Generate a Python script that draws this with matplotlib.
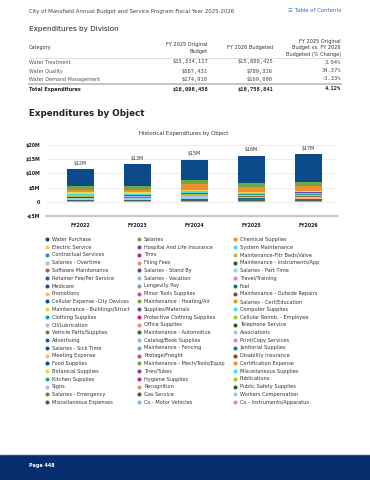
import matplotlib.pyplot as plt
from matplotlib.lines import Line2D
from matplotlib.patches import Rectangle
from matplotlib.ticker import MultipleLocator, FuncFormatter
import numpy as np

W, H = 370, 480

# --- table: expenditures by division ---
DIVISIONS = ['Water Treatment', 'Water Quality', 'Water Demand Management']
BUDGET_2025 = ['$15,334,117', '$587,431', '$174,910']
BUDGET_2026 = ['$15,800,425', '$789,326', '$169,090']
PCT_CHANGE = ['3.04%', '34.37%', '-3.33%']
TOTAL_ROW = ['Total Expenditures', '$16,096,458', '$16,758,841', '4.12%']

# --- chart: historical expenditures by object ($M) ---
YEARS = ['FY2022', 'FY2023', 'FY2024', 'FY2025', 'FY2026']
SERIES = [
    'Water Purchase', 'Salaries', 'Chemical Supplies',
    'Electric Service', 'Hospital And Life Insurance', 'System Maintenance',
    'Contractual Services', 'Tmrs', 'Maintenance-Fltr Beds/Valve',
    'Salaries - Overtime', 'Filing Fees', 'Maintenance - Instruments/App',
    'Software Maintenance', 'Salaries - Stand By', 'Salaries - Part Time',
    'Retainer Fee/Per Service', 'Salaries - Vacation', 'Travel/Training',
    'Medicare', 'Longevity Pay', 'Fuel',
    'Promotions', 'Minor Tools Supplies', 'Maintenance - Outside Repairs',
    'Cellular Expense -City Devices', 'Maintenance - Heating/Air', 'Salaries - Cert/Education',
    'Maintenance - Buildings/Struct', 'Supplies/Materials', 'Computer Supplies',
    'Clothing Supplies', 'Protective Clothing Supplies', 'Cellular Reimb. - Employee',
    'Oil/Lubrication', 'Office Supplies', 'Telephone Service',
    'Vehicle Parts/Supplies', 'Maintenance - Automotive', 'Associations',
    'Advertising', 'Catalog/Book Supplies', 'Print/Copy Services',
    'Salaries - Sick Time', 'Maintenance - Fencing', 'Janitorial Supplies',
    'Meeting Expense', 'Postage/Freight', 'Disability Insurance',
    'Food Supplies', 'Maintenance - Mech/Tools/Equip', 'Certification Expense',
    'Botanical Supplies', 'Tires/Tubes', 'Miscellaneous Supplies',
    'Kitchen Supplies', 'Hygiene Supplies', 'Publications',
    'Signs', 'Recognition', 'Public Safety Supplies',
    'Salaries - Emergency', 'Gas Service', 'Workers Compensation',
    'Miscellaneous Expenses', 'Co - Motor Vehicles', 'Co - Instruments/Apparatus',
]
VALUES = [
    [5.99, 7.75, 7.30, 9.72, 9.86],
    [1.40, 1.40, 1.30, 1.20, 1.41],
    [0.80, 0.85, 1.90, 1.76, 1.76],
    [0.62, 0.55, 0.50, 0.40, 0.42],
    [0.12, 0.12, 0.10, 0.10, 0.12],
    [0.50, 0.30, 0.55, 0.35, 0.50],
    [0.12, 0.10, 0.18, 0.15, 0.18],
    [0.08, 0.08, 0.07, 0.08, 0.09],
    [0.06, 0.08, 1.00, 0.06, 0.06],
    [0.30, 0.50, 0.18, 0.45, 0.45],
    [0.02, 0.02, 0.02, 0.02, 0.02],
    [0.03, 0.03, 0.05, 0.04, 0.04],
    [0.04, 0.04, 0.04, 0.05, 0.05],
    [0.03, 0.03, 0.03, 0.03, 0.03],
    [0.35, 0.40, 0.45, 0.35, 0.35],
    [0.02, 0.02, 0.03, 0.03, 0.03],
    [0.06, 0.06, 0.06, 0.06, 0.06],
    [0.04, 0.04, 0.05, 0.14, 0.12],
    [0.03, 0.03, 0.03, 0.03, 0.03],
    [0.01, 0.01, 0.01, 0.01, 0.01],
    [0.03, 0.03, 0.04, 0.04, 0.04],
    [0.10, 0.10, 0.08, 0.12, 0.10],
    [0.02, 0.02, 0.02, 0.02, 0.02],
    [0.03, 0.03, 0.03, 0.03, 0.03],
    [0.01, 0.01, 0.01, 0.01, 0.01],
    [0.01, 0.01, 0.01, 0.01, 0.01],
    [0.02, 0.02, 0.02, 0.02, 0.02],
    [0.05, 0.05, 0.10, 0.05, 0.05],
    [0.04, 0.04, 0.06, 0.30, 0.35],
    [0.02, 0.02, 0.02, 0.02, 0.02],
    [0.01, 0.01, 0.01, 0.01, 0.01],
    [0.01, 0.01, 0.01, 0.01, 0.01],
    [0.01, 0.01, 0.01, 0.01, 0.01],
    [0.01, 0.01, 0.01, 0.01, 0.01],
    [0.02, 0.02, 0.02, 0.02, 0.02],
    [0.02, 0.02, 0.02, 0.02, 0.02],
    [0.03, 0.03, 0.03, 0.03, 0.03],
    [0.03, 0.03, 0.03, 0.03, 0.03],
    [0.01, 0.01, 0.01, 0.01, 0.01],
    [0.01, 0.01, 0.01, 0.01, 0.01],
    [0.005, 0.005, 0.005, 0.005, 0.005],
    [0.01, 0.01, 0.01, 0.01, 0.01],
    [0.04, 0.04, 0.04, 0.04, 0.04],
    [0.005, 0.005, 0.005, 0.005, 0.005],
    [0.005, 0.005, 0.005, 0.005, 0.005],
    [0.005, 0.005, 0.005, 0.005, 0.005],
    [0.01, 0.01, 0.01, 0.01, 0.01],
    [0.01, 0.01, 0.01, 0.01, 0.01],
    [0.005, 0.005, 0.005, 0.005, 0.005],
    [0.02, 0.02, 0.02, 0.02, 0.02],
    [0.005, 0.005, 0.005, 0.005, 0.005],
    [0.005, 0.005, 0.005, 0.005, 0.005],
    [0.01, 0.01, 0.01, 0.01, 0.01],
    [0.01, 0.01, 0.01, 0.01, 0.01],
    [0.005, 0.005, 0.005, 0.005, 0.005],
    [0.005, 0.005, 0.005, 0.005, 0.005],
    [0.005, 0.005, 0.005, 0.005, 0.005],
    [0.005, 0.005, 0.005, 0.005, 0.005],
    [0.005, 0.005, 0.005, 0.005, 0.005],
    [0.01, 0.01, 0.01, 0.01, 0.01],
    [0.01, 0.01, 0.01, 0.01, 0.01],
    [0.005, 0.005, 0.005, 0.005, 0.005],
    [0.05, 0.05, 0.05, 0.05, 0.05],
    [0.02, 0.02, 0.02, 0.02, 0.02],
    [0.10, 0.10, 0.10, 0.10, 0.10],
    [0.05, 0.05, 0.05, 0.05, 0.05],
]

PALETTE = ['#0c4a8a', '#6aa944', '#f08f2f', '#f3d24c', '#6b48a6', '#40e0f0',
           '#18a3a6', '#c41a8c', '#b9c12c', '#b6b6f2', '#f08a78', '#1d6615',
           '#a06a3c', '#4c5b58', '#8fd4e8', '#1f5ea3', '#85b8f2', '#f07ab6',
           '#2a48a4', '#8c9ba8', '#0b7a84', '#f6b68c', '#e0487a', '#7c4a30']

TEXT = '#333333'


def fx(x):
    return x / W


def fy(y):
    return 1 - y / H


fig = plt.figure(figsize=(W / 100, H / 100), dpi=100)

# page header
fig.text(fx(29), fy(11), 'City of Mansfield Annual Budget and Service Program Fiscal Year 2025-2026',
         fontsize=3.9, color='#444444', va='center')
fig.text(fx(341), fy(11), '\u2630 Table of Contents', fontsize=3.9, color='#3b6fc6',
         va='center', ha='right')
fig.text(fx(29), fy(29), 'Expenditures by Division', fontsize=5.2, color='#222222', va='center')

# division table
fig.text(fx(29), fy(48), 'Category', fontsize=3.6, color=TEXT, va='center')
fig.text(fx(208), fy(48), 'FY 2025 Original\nBudget', fontsize=3.6, color=TEXT,
         va='center', ha='right', multialignment='right', linespacing=1.3)
fig.text(fx(273), fy(48), 'FY 2026 Budgeted', fontsize=3.6, color=TEXT, va='center', ha='right')
fig.text(fx(341), fy(48), 'FY 2025 Original\nBudget vs. FY 2026\nBudgeted (% Change)',
         fontsize=3.6, color=TEXT, va='center', ha='right', multialignment='right',
         linespacing=1.3)
fig.add_artist(Line2D([fx(29), fx(341)], [fy(58), fy(58)], color='#cfcfcf', lw=0.5))

row_y = [62, 71, 79]
for y, name, b25, b26, pct in zip(row_y, DIVISIONS, BUDGET_2025, BUDGET_2026, PCT_CHANGE):
    fig.text(fx(29), fy(y), name, fontsize=3.5, color='#555555', va='center')
    fig.text(fx(208), fy(y), b25, fontsize=3.9, color='#444444', va='center', ha='right',
             family='DejaVu Sans Mono')
    fig.text(fx(273), fy(y), b26, fontsize=3.9, color='#444444', va='center', ha='right',
             family='DejaVu Sans Mono')
    fig.text(fx(341), fy(y), pct, fontsize=3.9, color='#444444', va='center', ha='right',
             family='DejaVu Sans Mono')
fig.add_artist(Line2D([fx(29), fx(341)], [fy(84), fy(84)], color='#c4c4c4', lw=1.4))
fig.text(fx(29), fy(89), TOTAL_ROW[0], fontsize=3.5, color='#222222', va='center',
         weight='bold')
for xr, txt in zip([208, 273, 341], TOTAL_ROW[1:]):
    fig.text(fx(xr), fy(89), txt, fontsize=3.9, color='#222222', va='center', ha='right',
             family='DejaVu Sans Mono', weight='bold')

fig.text(fx(29), fy(113), 'Expenditures by Object', fontsize=6.3, color='#222222',
         va='center', weight='bold')
fig.text(fx(184), fy(133), 'Historical Expenditures by Object', fontsize=3.9,
         color=TEXT, va='center', ha='center')

# stacked column chart
ax = fig.add_axes([fx(46), fy(216), fx(337) - fx(46), fy(145) - fy(216)])
x = np.arange(len(YEARS))
vals = np.array(VALUES)
bottom = np.zeros(len(YEARS))
for i in reversed(range(len(SERIES))):
    ax.bar(x, vals[i], width=0.48, bottom=bottom,
           color=PALETTE[i % len(PALETTE)], linewidth=0)
    bottom += vals[i]
totals = vals.sum(axis=0)
for xi, t in zip(x, totals):
    ax.annotate(f'${round(t):.0f}M', (xi, t), xytext=(0, 2.5), textcoords='offset points',
                ha='center', va='bottom', fontsize=3.4, color=TEXT)

ax.set_xlim(-0.6, 4.5)
ax.set_ylim(-5, 20)
ax.yaxis.set_major_locator(MultipleLocator(5))
ax.yaxis.set_major_formatter(FuncFormatter(
    lambda v, p: '0' if v == 0 else ('-$%dM' % -v if v < 0 else '$%dM' % v)))
ax.set_xticks(x)
ax.set_xticklabels(YEARS)
ax.tick_params(axis='both', length=0, labelsize=3.4, colors='#222222')
ax.tick_params(axis='x', pad=5)
ax.tick_params(axis='y', pad=4)
for lab in ax.get_xticklabels() + ax.get_yticklabels():
    lab.set_fontweight('bold')
ax.grid(axis='y', color='#e6e6e6', linewidth=0.5)
ax.set_axisbelow(True)
for s in ['top', 'right', 'left']:
    ax.spines[s].set_visible(False)
ax.spines['bottom'].set_color('#c8c8c8')
ax.spines['bottom'].set_linewidth(1.6)

# legend, filled row by row like the original
handles = [Line2D([], [], marker='o', linestyle='none', markersize=2.9,
                  markerfacecolor=PALETTE[i % len(PALETTE)], markeredgewidth=0)
           for i in range(len(SERIES))]
ncol = 3
nrow = len(SERIES) // ncol
order = [r * ncol + c for c in range(ncol) for r in range(nrow)]
fig.legend([handles[i] for i in order], [SERIES[i] for i in order], ncol=ncol,
           loc='upper left', bbox_to_anchor=(fx(45), fy(237)), frameon=False,
           fontsize=3.6, labelcolor=TEXT, handlelength=0.7, handletextpad=0.6,
           columnspacing=1.7, labelspacing=0.55, borderpad=0, borderaxespad=0)

# footer band
fig.add_artist(Rectangle((0, 0), 1, fy(455), transform=fig.transFigure,
                         color='#072d6d', zorder=0))
fig.add_artist(Line2D([0, 1], [fy(455), fy(455)], color='#2a5596', lw=0.6))
fig.text(fx(29), fy(466), 'Page 448', fontsize=3.5, color='white', va='center',
         weight='bold')

fig.savefig('out.png', dpi=100)
